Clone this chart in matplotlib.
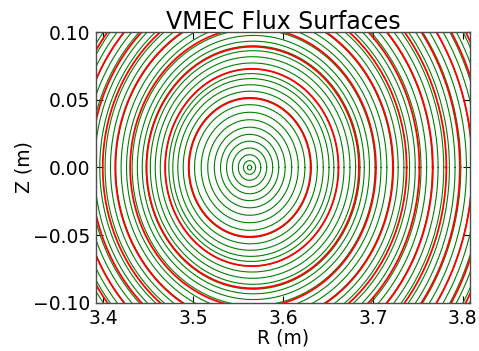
import numpy as np
import matplotlib
matplotlib.use("Agg")
import matplotlib.pyplot as plt

# magnetic axis and elongation
R_axis = 3.5628
kappa = 0.755

# green surfaces: half-width in R (m) and outward shift of centre (m)
green_a = [0.0024, 0.0067, 0.0125, 0.0191, 0.0257, 0.0324, 0.0394, 0.0467,
           0.0540, 0.0614, 0.0684, 0.0746, 0.0809, 0.0869, 0.0918, 0.0964,
           0.1022, 0.1083, 0.1142, 0.1190, 0.1235, 0.1291, 0.1351, 0.1415,
           0.1478, 0.1539, 0.1600, 0.1662, 0.1723, 0.1784, 0.1846, 0.1907,
           0.1968, 0.2030, 0.2091, 0.2152, 0.2213, 0.2275, 0.2336, 0.2397,
           0.2459, 0.2520, 0.2581, 0.2643, 0.2704, 0.2765, 0.2827]
green_shift = [0.0000, 0.0000, 0.0000, 0.0000, 0.0001, 0.0001, 0.0002, 0.0002,
               0.0002, 0.0002, 0.0003, 0.0008, 0.0011, 0.0015, 0.0020, 0.0025,
               0.0029, 0.0034, 0.0038, 0.0039, 0.0041, 0.0043, 0.0045, 0.0047,
               0.0049, 0.0051, 0.0053, 0.0055, 0.0057, 0.0059, 0.0061, 0.0063,
               0.0065, 0.0067, 0.0069, 0.0071, 0.0073, 0.0075, 0.0077, 0.0079,
               0.0081, 0.0083, 0.0085, 0.0087, 0.0089, 0.0091, 0.0093]

# red surfaces
red_a = [0.0677, 0.0964, 0.1181, 0.1367, 0.1546, 0.1690, 0.1828, 0.1972,
         0.2117, 0.2262, 0.2397, 0.2531, 0.2666, 0.2800]
red_shift = [0.0003, 0.0025, 0.0036, 0.0039, 0.0052, 0.0057, 0.0061, 0.0067,
             0.0072, 0.0077, 0.0081, 0.0086, 0.0090, 0.0094]

theta = np.linspace(0, 2 * np.pi, 361)

fig = plt.figure(figsize=(4.79, 3.51), dpi=100)
ax = fig.add_axes([0.2004, 0.1368, 0.7808, 0.772])

for a, s in zip(green_a, green_shift):
    ax.plot(R_axis + s + a * np.cos(theta), kappa * a * np.sin(theta),
            color='g', lw=0.8)
for a, s in zip(red_a, red_shift):
    ax.plot(R_axis + s + a * np.cos(theta), kappa * a * np.sin(theta),
            color='r', lw=1.3)

ax.set_xlim(3.392, 3.808)
ax.set_ylim(-0.10, 0.10)
ax.set_xticks([3.4, 3.5, 3.6, 3.7, 3.8])
ax.set_yticks([-0.10, -0.05, 0.00, 0.05, 0.10])
ax.yaxis.set_major_formatter(
    matplotlib.ticker.FuncFormatter(lambda v, p: f"{v:.2f}".replace('-', '\u2212')))
ax.tick_params(direction='in', top=True, right=True, length=5, width=0.8,
               labelsize=13.5, pad=4)
for sp in ax.spines.values():
    sp.set_color('0.3')
    sp.set_linewidth(1.0)

ax.set_title("VMEC Flux Surfaces", fontsize=17, pad=2)
ax.set_xlabel("R (m)", fontsize=13.5, labelpad=1)
ax.set_ylabel("Z (m)", fontsize=13.5, labelpad=0)

fig.savefig("out.png", dpi=100)
